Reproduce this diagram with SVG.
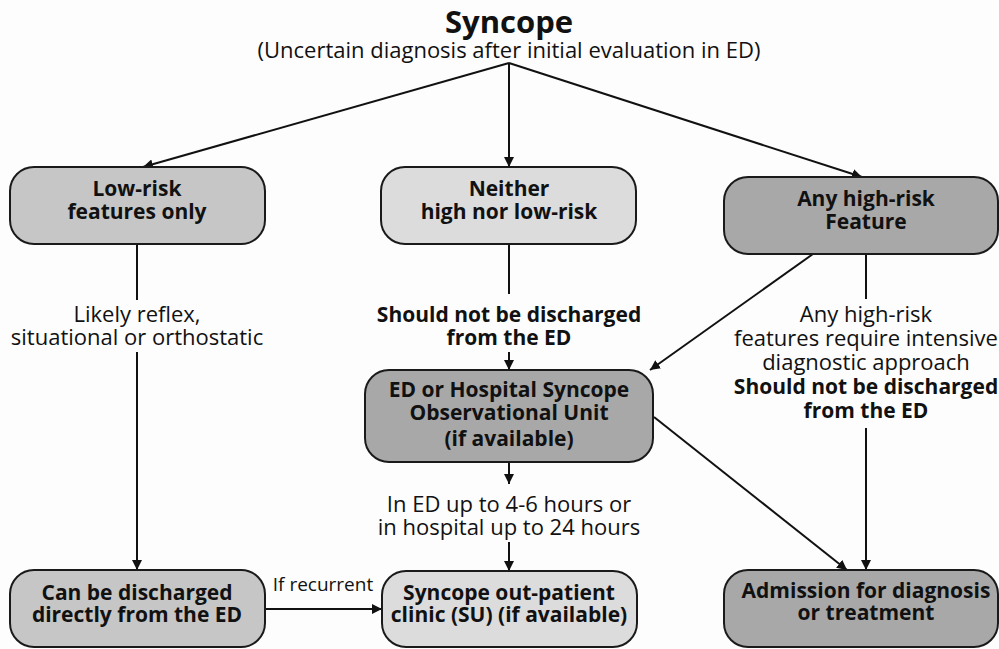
<svg xmlns="http://www.w3.org/2000/svg" width="999" height="649" viewBox="0 0 999 649">
<defs>
<marker id="ah" viewBox="0 0 10 10" refX="10" refY="5" markerWidth="10" markerHeight="10" markerUnits="userSpaceOnUse" orient="auto">
<path d="M0,0 L10,5 L0,10 z" fill="#111"/>
</marker>
</defs>
<style>
text{font-family:"Open Sans","Noto Sans","DejaVu Sans",sans-serif;fill:#111;text-anchor:middle}
.nb{font-size:21px;font-weight:bold}
.lb{font-size:22px}
.lbb{font-size:21px;font-weight:bold}
.box{stroke:#1a1a1a;stroke-width:2}
.light{fill:#dcdcdc}
.mid{fill:#c6c6c6}
.dark{fill:#a8a8a8}
.c{stroke:#111;stroke-width:2;fill:none}
.a{marker-end:url(#ah)}
</style>
<rect width="999" height="649" fill="#fdfdfd"/>
<g id="title">
<text x="509" y="33" style="font-size:31px;font-weight:bold">Syncope</text>
<text x="509" y="58" style="font-size:22px">(Uncertain diagnosis after initial evaluation in ED)</text>
</g>
<g id="connectors">
<line class="c a" x1="509" y1="63" x2="143" y2="167"/>
<line class="c a" x1="509" y1="63" x2="509" y2="167"/>
<line class="c a" x1="509" y1="63" x2="862" y2="177"/>
<line class="c" x1="137" y1="244" x2="137" y2="300"/>
<line class="c a" x1="137" y1="352" x2="137" y2="570"/>
<line class="c" x1="509" y1="244" x2="509" y2="294"/>
<line class="c a" x1="509" y1="352" x2="509" y2="370"/>
<line class="c a" x1="813" y1="254" x2="650" y2="370"/>
<line class="c" x1="866" y1="254" x2="866" y2="299"/>
<line class="c a" x1="866" y1="428" x2="866" y2="570"/>
<line class="c a" x1="509" y1="462" x2="509" y2="484"/>
<line class="c a" x1="509" y1="542" x2="509" y2="571"/>
<line class="c a" x1="654" y1="417" x2="847" y2="570"/>
<line class="c a" x1="265" y1="609" x2="382" y2="609"/>
<text class="lb" x="137" y="322">Likely reflex,</text>
<text class="lb" x="137" y="345">situational or orthostatic</text>
<text class="lbb" x="509" y="322">Should not be discharged</text>
<text class="lbb" x="509" y="345">from the ED</text>
<text class="lb" x="866" y="322">Any high-risk</text>
<text class="lb" x="866" y="346">features require intensive</text>
<text class="lb" x="866" y="370">diagnostic approach</text>
<text class="lbb" x="866" y="394">Should not be discharged</text>
<text class="lbb" x="866" y="418">from the ED</text>
<text class="lb" x="509" y="512">In ED up to 4-6 hours or</text>
<text class="lb" x="509" y="535">in hospital up to 24 hours</text>
<text x="323" y="591" style="font-size:19px">If recurrent</text>
</g>
<g id="low-risk">
<rect class="box mid" x="10" y="167" width="255" height="77" rx="24"/>
<text class="nb" x="137" y="196">Low-risk</text>
<text class="nb" x="137" y="219">features only</text>
</g>
<g id="neither">
<rect class="box light" x="381" y="167" width="255" height="77" rx="24"/>
<text class="nb" x="509" y="196">Neither</text>
<text class="nb" x="509" y="219">high nor low-risk</text>
</g>
<g id="high-risk">
<rect class="box dark" x="724" y="177" width="274" height="77" rx="24"/>
<text class="nb" x="866" y="206">Any high-risk</text>
<text class="nb" x="866" y="229">Feature</text>
</g>
<g id="observational-unit">
<rect class="box dark" x="365" y="370" width="288" height="92" rx="24"/>
<text class="nb" x="509" y="397">ED or Hospital Syncope</text>
<text class="nb" x="509" y="420">Observational Unit</text>
<text class="nb" x="509" y="446">(if available)</text>
</g>
<g id="discharged">
<rect class="box mid" x="10" y="570" width="255" height="77" rx="24"/>
<text class="nb" x="137" y="600">Can be discharged</text>
<text class="nb" x="137" y="622">directly from the ED</text>
</g>
<g id="outpatient-clinic">
<rect class="box light" x="382" y="571" width="255" height="76" rx="24"/>
<text class="nb" x="509" y="600">Syncope out-patient</text>
<text class="nb" x="509" y="622">clinic (SU) (if available)</text>
</g>
<g id="admission">
<rect class="box dark" x="724" y="570" width="274" height="77" rx="24"/>
<text class="nb" x="866" y="598">Admission for diagnosis</text>
<text class="nb" x="866" y="620">or treatment</text>
</g>
</svg>
